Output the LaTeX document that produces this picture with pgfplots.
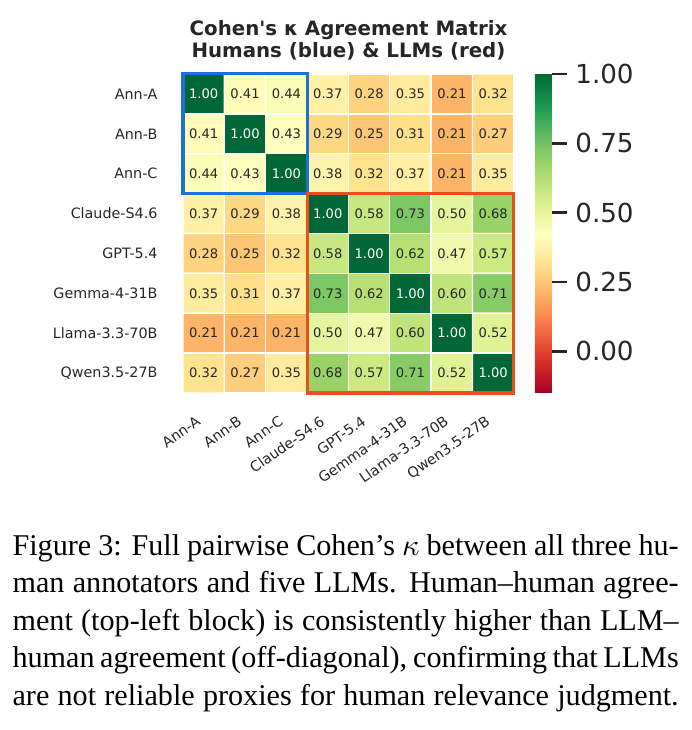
\documentclass[border=0pt]{standalone}
\usepackage{fontspec}
\setmainfont{Liberation Serif}
\newfontfamily\dejavu{DejaVu Sans}[Ligatures=TeXOff]
\usepackage{pgfplots}
\pgfplotsset{compat=1.18}
\usepackage{pgfplotstable}
\definecolor{txt}{HTML}{262626}
\definecolor{hblue}{RGB}{28,113,216}
\definecolor{lred}{RGB}{230,81,28}

\pgfplotstableread{
x y c
0 0 1.00
1 0 0.41
2 0 0.44
3 0 0.37
4 0 0.28
5 0 0.35
6 0 0.21
7 0 0.32
0 1 0.41
1 1 1.00
2 1 0.43
3 1 0.29
4 1 0.25
5 1 0.31
6 1 0.21
7 1 0.27
0 2 0.44
1 2 0.43
2 2 1.00
3 2 0.38
4 2 0.32
5 2 0.37
6 2 0.21
7 2 0.35
0 3 0.37
1 3 0.29
2 3 0.38
3 3 1.00
4 3 0.58
5 3 0.73
6 3 0.50
7 3 0.68
0 4 0.28
1 4 0.25
2 4 0.32
3 4 0.58
4 4 1.00
5 4 0.62
6 4 0.47
7 4 0.57
0 5 0.35
1 5 0.31
2 5 0.37
3 5 0.73
4 5 0.62
5 5 1.00
6 5 0.60
7 5 0.71
0 6 0.21
1 6 0.21
2 6 0.21
3 6 0.50
4 6 0.47
5 6 0.60
6 6 1.00
7 6 0.52
0 7 0.32
1 7 0.27
2 7 0.35
3 7 0.68
4 7 0.57
5 7 0.71
6 7 0.52
7 7 1.00
}\kappadata

\begin{document}
\begin{tikzpicture}[x=0.3285pt,y=-0.3285pt]
\path[use as bounding box] (0,0) rectangle (691,730);
\begin{axis}[
  at={(60.12pt,-129.10pt)}, anchor=south west,
  scale only axis, width=108.7pt, height=104.8pt,
  xmin=-0.5, xmax=7.5, ymin=-0.5, ymax=7.5,
  y dir=reverse, clip=false,
  axis line style={draw=none},
  major tick length=0pt,
  xtick={0,...,7}, ytick={0,...,7},
  xticklabels={Ann-A,Ann-B,Ann-C,Claude-S4.6,GPT-5.4,Gemma-4-31B,Llama-3.3-70B,Qwen3.5-27B},
  yticklabels={Ann-A,Ann-B,Ann-C,Claude-S4.6,GPT-5.4,Gemma-4-31B,Llama-3.3-70B,Qwen3.5-27B},
  yticklabel style={font=\dejavu\fontsize{4.7}{5.6}\selectfont, text=txt, inner sep=0pt, anchor=east, xshift=-8.2pt},
  xticklabel style={font=\dejavu\fontsize{4.7}{5.6}\selectfont, text=txt, inner sep=0pt,
    text height=0.73em, text depth=0.25em, xshift=-4.9pt, yshift=-3.9pt, rotate=35, anchor=north east},
  /pgf/number format/assume math mode=true,
  colormap={RdYlGn}{rgb255=(165,0,38) rgb255=(215,48,39) rgb255=(244,109,67) rgb255=(253,174,97) rgb255=(254,224,139) rgb255=(255,255,191) rgb255=(217,239,139) rgb255=(166,217,106) rgb255=(102,189,99) rgb255=(26,152,80) rgb255=(0,104,55)},
  point meta min=-0.15, point meta max=1,
  colorbar,
  colorbar style={
    width=5.6pt, at={(parent axis.north east)}, anchor=north west, xshift=-1.64pt,
    y dir=normal, axis line style={draw=none},
    ytick={0,0.25,0.5,0.75,1}, xtick=\empty,
    ytick pos=right, yticklabel pos=right,
    yticklabel={\pgfmathprintnumber[fixed,fixed zerofill,precision=2]{\tick}},
    yticklabel style={font=\dejavu\fontsize{8.6}{10}\selectfont, text=txt, inner sep=0pt, xshift=2.6pt},
    tick align=outside, major tick length=4.9pt,
    major tick style={line width=0.9pt, color=txt},
    /pgf/number format/assume math mode=true,
  },
]
\addplot[matrix plot*, shader=faceted, faceted color=white, line width=0.45pt,
  mesh/cols=8, mesh/rows=8, point meta=explicit] table[x=x, y=y, meta=c] {\kappadata};
% cell values, off-diagonal (dark text)
\addplot[only marks, mark=none, point meta=explicit symbolic,
  x filter/.expression={x==\thisrow{y} ? nan : x},
  nodes near coords,
  every node near coord/.append style={font=\dejavu\fontsize{4.3}{5}\selectfont, anchor=center, text=txt},
] table[x=x, y=y, meta=c] {\kappadata};
% cell values, diagonal (white text)
\addplot[only marks, mark=none, point meta=explicit symbolic,
  x filter/.expression={x==\thisrow{y} ? x : nan},
  nodes near coords,
  every node near coord/.append style={font=\dejavu\fontsize{4.3}{5}\selectfont, anchor=center, text=white},
] table[x=x, y=y, meta=c] {\kappadata};
\addplot[draw=hblue, line width=1pt, mark=none] coordinates {(-0.5,-0.5) (2.5,-0.5) (2.5,2.5) (-0.5,2.5)} -- cycle;
\addplot[draw=lred, line width=1pt, mark=none] coordinates {(2.5,2.5) (7.5,2.5) (7.5,7.5) (2.5,7.5)} -- cycle;
\end{axis}
\node[font=\dejavu\bfseries\fontsize{6.5}{7.5}\selectfont, text=txt, anchor=base] at (348.5,36) {Cohen's κ Agreement Matrix};
\node[font=\dejavu\bfseries\fontsize{6.5}{7.5}\selectfont, text=txt, anchor=base] at (348.5,58) {Humans (blue) \& LLMs (red)};
\begin{scope}[every node/.style={anchor=base west, inner sep=0pt, font=\fontsize{9.9}{12}\selectfont}]
\node at (12,555) {\makebox[218.8pt][s]{Figure 3: Full pairwise Cohen’s $\kappa$ between all three hu-}};
\node at (12,592.5) {\makebox[218.8pt][s]{man annotators and five LLMs. Human–human agree-}};
\node at (12,630) {\makebox[218.8pt][s]{ment (top-left block) is consistently higher than LLM–}};
\node at (12,667.5) {\makebox[218.8pt][s]{human agreement (off-diagonal), confirming that LLMs}};
\node at (12,705) {\makebox[218.8pt][s]{are not reliable proxies for human relevance judgment.}};
\end{scope}
\end{tikzpicture}
\end{document}
